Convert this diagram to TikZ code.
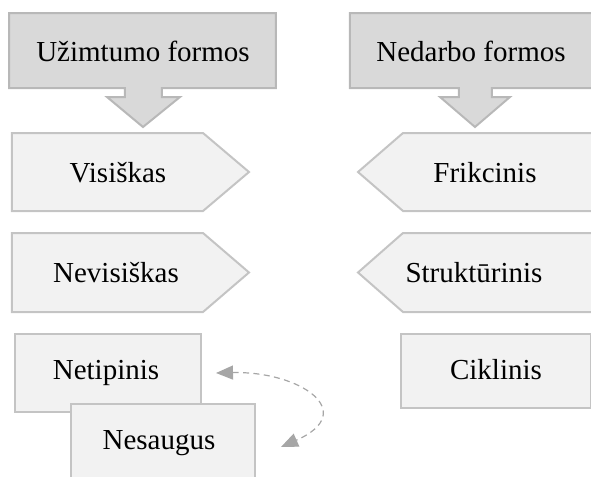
\documentclass[tikz,border=0pt]{standalone}
\usepackage{fontspec}
\setmainfont{Liberation Serif}
\usetikzlibrary{arrows.meta}
\definecolor{headfill}{HTML}{D9D9D9}
\definecolor{headline}{HTML}{B8B8B8}
\definecolor{itemfill}{HTML}{F2F2F2}
\definecolor{itemline}{HTML}{C4C4C4}
\definecolor{linkgray}{HTML}{A6A6A6}
\tikzset{
  headshape/.style={fill=headfill, draw=headline, line width=1pt},
  itemshape/.style={fill=itemfill, draw=itemline, line width=1pt},
  label/.style={font=\fontsize{14.5}{17}\selectfont, text=black, inner sep=0pt},
  itembox/.style={itemshape, rectangle, anchor=north west, inner sep=0pt},
  link/.style={draw=linkgray, line width=0.6pt, dash pattern=on 3pt off 2.2pt,
    {Triangle[length=8.5pt,width=7pt,fill=linkgray]}-{Triangle[length=8.5pt,width=7pt,fill=linkgray]}}
}
\begin{document}
\begin{tikzpicture}[x=0.5pt,y=-0.5pt]
\useasboundingbox (0,0) rectangle (591,477);
\clip (0,0) rectangle (591,477);
% headers with their downward arrows
\path[headshape] (9,13) -- (276,13) -- (276,88) -- (162,88) -- (162,97) -- (180,97)
  -- (143,127) -- (107,97) -- (125,97) -- (125,88) -- (9,88) -- cycle;
\node[label] (uzimtumas) at (143,51) {Užimtumo formos};
\path[headshape] (350,13) -- (600,13) -- (600,88) -- (492,88) -- (492,97) -- (510,97)
  -- (475,127) -- (440,97) -- (459,97) -- (459,88) -- (350,88) -- cycle;
\node[label] (nedarbas) at (471,51) {Nedarbo formos};
% employment forms
\path[itemshape] (12,133) -- (203,133) -- (249,172) -- (203,211) -- (12,211) -- cycle;
\node[label] (visiskas) at (118,173) {Visiškas};
\path[itemshape] (12,233) -- (203,233) -- (249,272.5) -- (203,312) -- (12,312) -- cycle;
\node[label] (nevisiskas) at (116,273) {Nevisiškas};
% unemployment forms
\path[itemshape] (600,133) -- (403,133) -- (358,172) -- (403,211) -- (600,211) -- cycle;
\node[label] (frikcinis) at (485,173) {Frikcinis};
\path[itemshape] (600,233) -- (403,233) -- (358,272.5) -- (403,312) -- (600,312) -- cycle;
\node[label] (strukturinis) at (474,273) {Struktūrinis};
% rectangular items
\node[itembox, minimum width=93pt, minimum height=39pt] (netipinis) at (14,333) {};
\node[label] (netipinistxt) at (106,373) {Netipinis};
\node[itembox, minimum width=92pt, minimum height=42pt] (nesaugus) at (70,403) {};
\node[label] (nesaugustxt) at (159,443) {Nesaugus};
\node[itembox, minimum width=95pt, minimum height=37pt] (ciklinis) at (400,333) {};
\node[label] (ciklinistxt) at (496,370) {Ciklinis};
% two-way dashed link
\coordinate (linkA) at ([xshift=7pt]netipinis.east);
\coordinate (linkB) at ([xshift=12.5pt,yshift=-0.5pt]nesaugus.east);
\draw[link] (linkA) .. controls (300,371) and (360,412) .. (linkB);
\end{tikzpicture}
\end{document}
